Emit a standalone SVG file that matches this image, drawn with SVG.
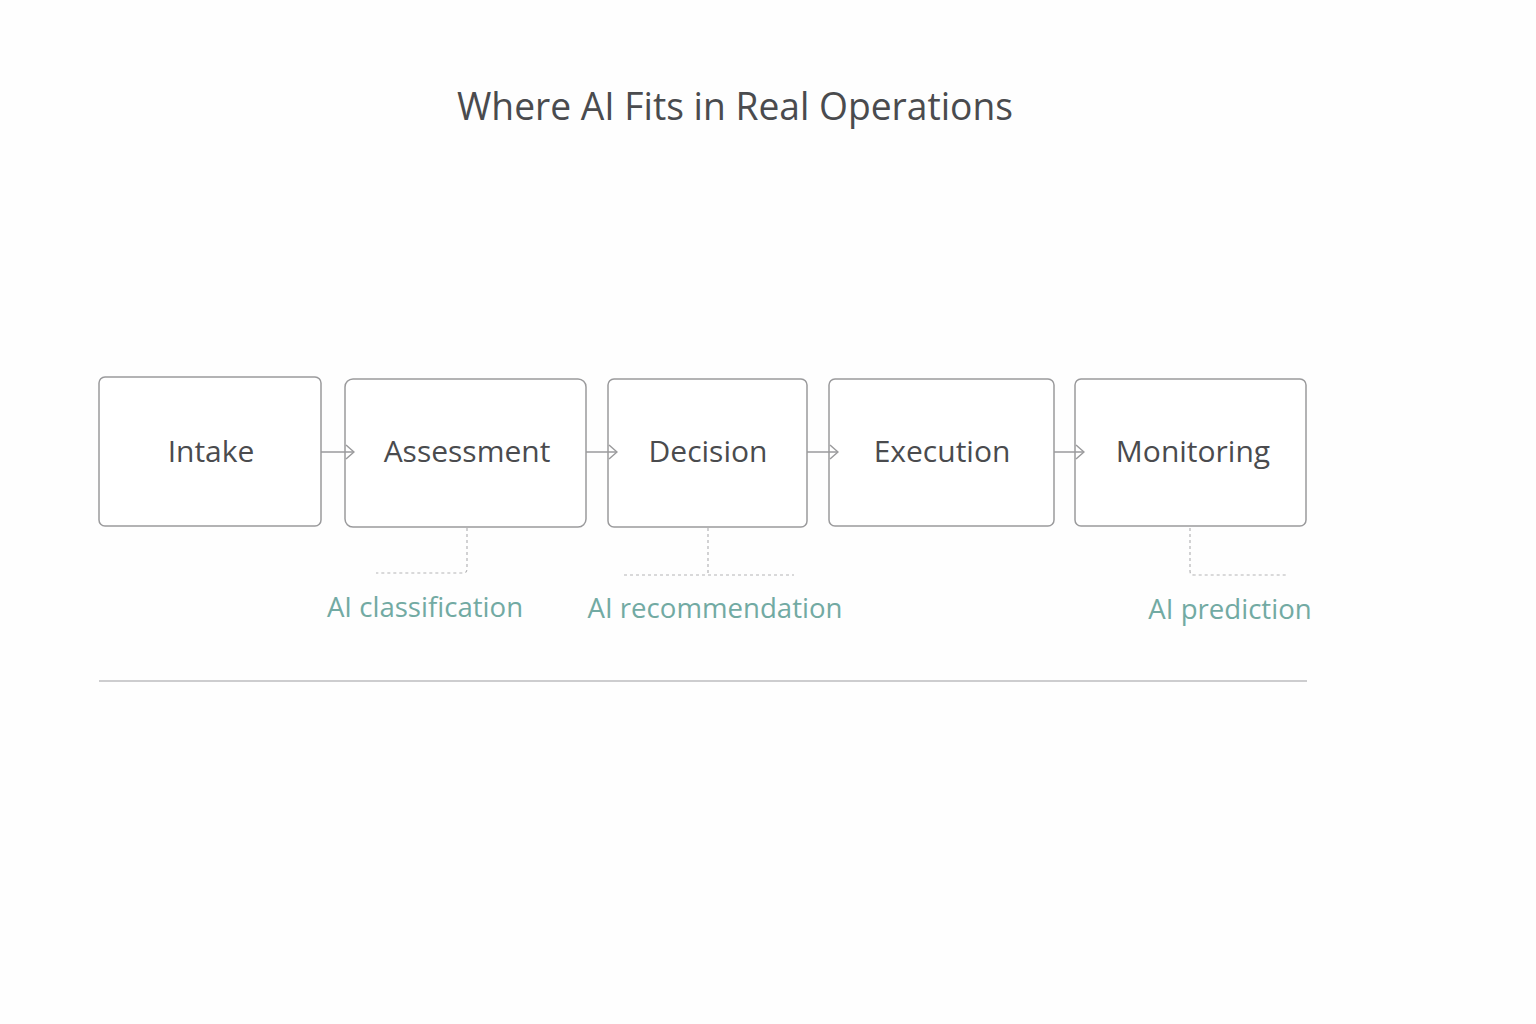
<svg xmlns="http://www.w3.org/2000/svg" width="1536" height="1024" viewBox="0 0 1536 1024">
<style>
.box{fill:#ffffff;stroke:#9a9a9c;stroke-width:1.5}
.lbl{font-family:"Open Sans","Noto Sans","Liberation Sans",sans-serif;font-size:30px;fill:#4a4b4e;text-anchor:middle}
.ai{font-family:"Open Sans","Noto Sans","Liberation Sans",sans-serif;font-size:27.6px;fill:#72aaa3}
.flow{fill:none;stroke:#9a9a9c;stroke-width:1.5}
.dash{fill:none;stroke:#b4b4b6;stroke-width:1.2;stroke-dasharray:3 3}
</style>
<defs>
<marker id="chev" viewBox="0 0 10 16" refX="9" refY="8" markerWidth="10" markerHeight="16" markerUnits="userSpaceOnUse" orient="auto">
<path d="M1 1 L9 8 L1 15" fill="none" stroke="#9a9a9c" stroke-width="1.5"/>
</marker>
</defs>
<rect width="1536" height="1024" fill="#fefefe"/>
<text x="735" y="120" font-family="Open Sans, Noto Sans, Liberation Sans, sans-serif" font-size="39" fill="#4a4b4e" text-anchor="middle" textLength="556" lengthAdjust="spacingAndGlyphs">Where AI Fits in Real Operations</text>
<g id="intake"><rect class="box" x="99" y="377" width="222" height="149" rx="6"/><text class="lbl" x="211" y="462">Intake</text></g>
<g id="assessment"><rect class="box" x="345" y="379" width="241" height="148" rx="8"/><text class="lbl" x="467" y="462">Assessment</text></g>
<g id="decision"><rect class="box" x="608" y="379" width="199" height="148" rx="6"/><text class="lbl" x="708" y="462">Decision</text></g>
<g id="execution"><rect class="box" x="829" y="379" width="225" height="147" rx="6"/><text class="lbl" x="942" y="462">Execution</text></g>
<g id="monitoring"><rect class="box" x="1075" y="379" width="231" height="147" rx="6"/><text class="lbl" x="1193" y="462">Monitoring</text></g>
<g id="connectors">
<line class="flow" x1="321" y1="452" x2="354" y2="452" marker-end="url(#chev)"/>
<line class="flow" x1="586" y1="452" x2="617" y2="452" marker-end="url(#chev)"/>
<line class="flow" x1="807" y1="452" x2="838" y2="452" marker-end="url(#chev)"/>
<line class="flow" x1="1054" y1="452" x2="1084" y2="452" marker-end="url(#chev)"/>
<path class="dash" d="M467 528 V569 Q467 573 463 573 H376"/>
<path class="dash" d="M708 528 V575 M624 575 H794"/>
<path class="dash" d="M1190 528 V571 Q1190 575 1194 575 H1286"/>
</g>
<g id="ai-labels">
<text class="ai" x="425" y="617" text-anchor="middle">AI classification</text>
<text class="ai" x="715" y="618" text-anchor="middle">AI recommendation</text>
<text class="ai" x="1230" y="619" text-anchor="middle">AI prediction</text>
</g>
<line x1="99" y1="681" x2="1307" y2="681" stroke="#bdbdbf" stroke-width="1.5"/>
</svg>
